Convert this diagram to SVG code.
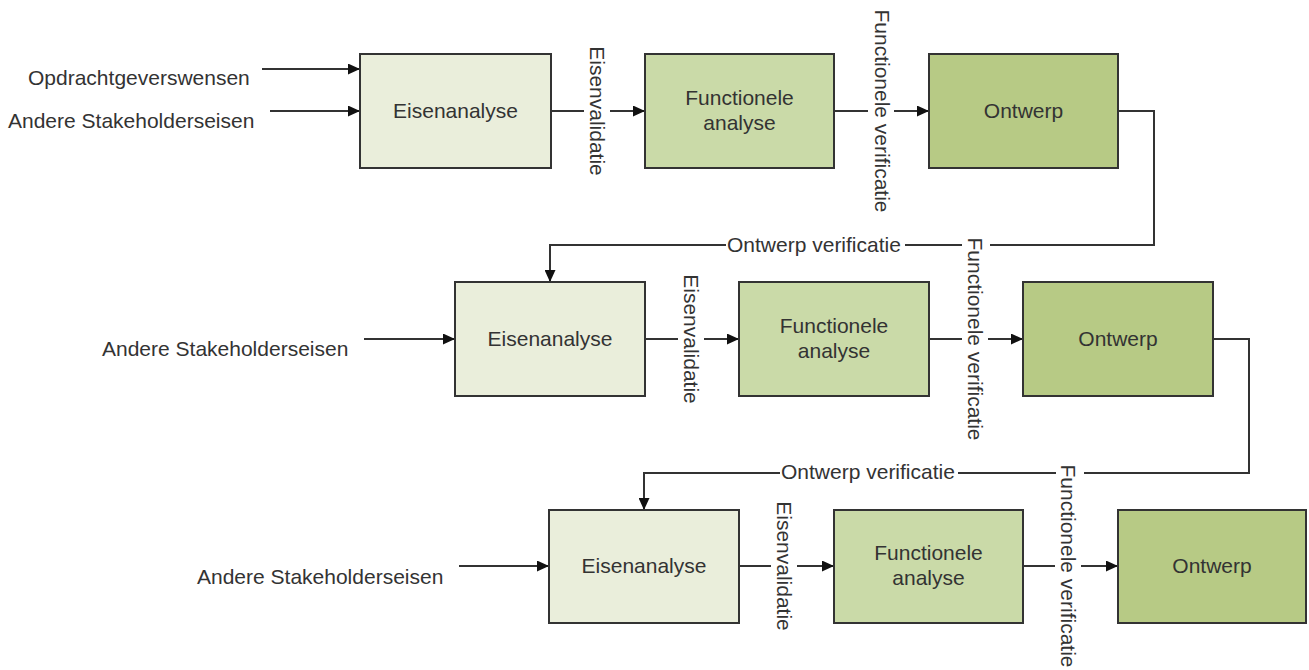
<svg xmlns="http://www.w3.org/2000/svg" width="1309" height="670" viewBox="0 0 1309 670">
<defs>
<marker id="arr" markerUnits="userSpaceOnUse" markerWidth="12" markerHeight="11" refX="12" refY="5.5" orient="auto"><path d="M0,0 L12,5.5 L0,11 z" fill="#111"/></marker>
<style>
.t{font-family:"Liberation Sans",Arial,sans-serif;font-size:21px;fill:#333}
.m{text-anchor:middle}
.box{stroke:#333;stroke-width:2}
.e{fill:#EAEEDB}
.f{fill:#CADAA8}
.o{fill:#B7CA85}
.c{fill:none;stroke:#333;stroke-width:2}
.a{marker-end:url(#arr)}
</style>
</defs>
<rect width="1309" height="670" fill="#fff"/>
<g id="connectors">
<path class="c a" d="M262,69 H360"/>
<path class="c a" d="M270,111 H360"/>
<path class="c a" d="M551,111 H584 M610,111 H645"/>
<path class="c a" d="M834,111 H868 M894,111 H929"/>
<path class="c a" d="M1118,111 H1154 V245 H990 M962,245 H905 M726,245 H550 V282"/>
<path class="c a" d="M364,339 H455"/>
<path class="c a" d="M645,339 H678 M704,339 H739"/>
<path class="c a" d="M929,339 H962 M988,339 H1023"/>
<path class="c a" d="M1213,339 H1249 V473 H1084 M1056,473 H958 M780,473 H644 V510"/>
<path class="c a" d="M459,566 H549"/>
<path class="c a" d="M739,566 H771 M797,566 H834"/>
<path class="c a" d="M1023,566 H1055 M1081,566 H1118"/>
</g>
<g id="labels">
<text class="t" x="28" y="85">Opdrachtgeverswensen</text>
<text class="t" x="8" y="128">Andere Stakeholderseisen</text>
<text class="t" x="102" y="356">Andere Stakeholderseisen</text>
<text class="t" x="197" y="584">Andere Stakeholderseisen</text>
<text class="t m" transform="translate(590,111) rotate(90)">Eisenvalidatie</text>
<text class="t m" transform="translate(875,111) rotate(90)">Functionele verificatie</text>
<text class="t m" transform="translate(684,339) rotate(90)">Eisenvalidatie</text>
<text class="t m" transform="translate(968,339) rotate(90)">Functionele verificatie</text>
<text class="t m" transform="translate(777,566) rotate(90)">Eisenvalidatie</text>
<text class="t m" transform="translate(1061,566) rotate(90)">Functionele verificatie</text>
<text class="t" x="727" y="252">Ontwerp verificatie</text>
<text class="t" x="781" y="479">Ontwerp verificatie</text>
</g>
<g id="eisen1"><rect class="box e" x="360" y="54" width="191" height="114"/><text class="t m" x="455.5" y="118">Eisenanalyse</text></g>
<g id="func1"><rect class="box f" x="645" y="54" width="189" height="114"/><text class="t m" x="739.5" y="105">Functionele</text><text class="t m" x="739.5" y="130">analyse</text></g>
<g id="ontwerp1"><rect class="box o" x="929" y="54" width="189" height="114"/><text class="t m" x="1023.5" y="118">Ontwerp</text></g>
<g id="eisen2"><rect class="box e" x="455" y="282" width="190" height="114"/><text class="t m" x="550" y="346">Eisenanalyse</text></g>
<g id="func2"><rect class="box f" x="739" y="282" width="190" height="114"/><text class="t m" x="834" y="333">Functionele</text><text class="t m" x="834" y="358">analyse</text></g>
<g id="ontwerp2"><rect class="box o" x="1023" y="282" width="190" height="114"/><text class="t m" x="1118" y="346">Ontwerp</text></g>
<g id="eisen3"><rect class="box e" x="549" y="510" width="190" height="113"/><text class="t m" x="644" y="573">Eisenanalyse</text></g>
<g id="func3"><rect class="box f" x="834" y="510" width="189" height="113"/><text class="t m" x="928.5" y="560">Functionele</text><text class="t m" x="928.5" y="585">analyse</text></g>
<g id="ontwerp3"><rect class="box o" x="1118" y="510" width="188" height="113"/><text class="t m" x="1212" y="573">Ontwerp</text></g>
</svg>
